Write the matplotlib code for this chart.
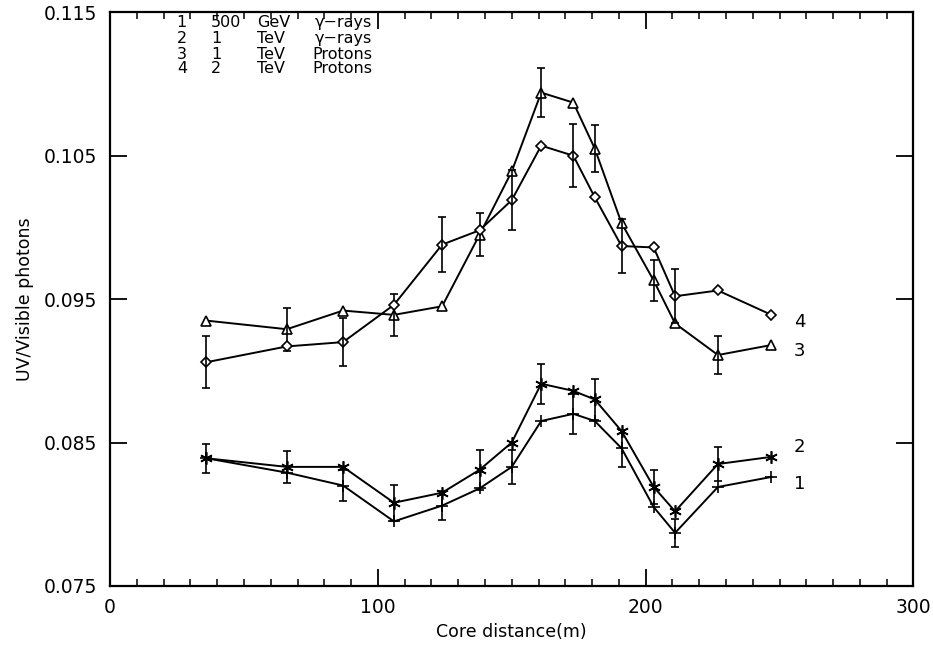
import numpy as np
import matplotlib
matplotlib.use("Agg")
import matplotlib.pyplot as plt
from matplotlib.ticker import MultipleLocator

# core distance (m)
dist = [36, 66, 87, 106, 124, 138, 150, 161, 173, 181, 191, 203, 211, 227, 247]

# UV / visible photon ratio
gamma_500 = [0.0839, 0.0829, 0.0820, 0.0795, 0.0806, 0.0818, 0.0833, 0.0865,
             0.0870, 0.0865, 0.0846, 0.0805, 0.0787, 0.0819, 0.0826]
gamma_1tev = [0.0839, 0.0833, 0.0833, 0.0808, 0.0815, 0.0831, 0.0850, 0.0891,
              0.0886, 0.0880, 0.0858, 0.0819, 0.0802, 0.0835, 0.0840]
prot_1tev = [0.0935, 0.0929, 0.0942, 0.0939, 0.0945, 0.0995, 0.1039, 0.1094,
             0.1087, 0.1055, 0.1003, 0.0963, 0.0933, 0.0911, 0.0918]
prot_2tev = [0.0906, 0.0917, 0.0920, 0.0946, 0.0988, 0.0998, 0.1019, 0.1057,
             0.1050, 0.1021, 0.0987, 0.0986, 0.0952, 0.0956, 0.0939]

# error bars (0 = no bar drawn)
err_gamma_500 = [0.0010, 0, 0.0011, 0, 0.0010, 0, 0.0012, 0,
                 0.0014, 0, 0.0013, 0, 0.0010, 0, 0]
err_gamma_1tev = [0, 0.0011, 0, 0.00127, 0, 0.0014, 0, 0.0014,
                  0, 0.0014, 0, 0.0012, 0, 0.0012, 0]
err_prot_1tev = [0, 0.0015, 0, 0.00145, 0, 0.0015, 0, 0.0017,
                 0, 0.00165, 0, 0.0014, 0, 0.0013, 0]
err_prot_2tev = [0.0018, 0, 0.00165, 0, 0.0019, 0, 0.0021, 0,
                 0.0022, 0, 0.0019, 0, 0.0019, 0, 0]

series = [
    (gamma_500, err_gamma_500, '+', 9, "1"),
    (gamma_1tev, err_gamma_1tev, (6, 2, 0), 9, "2"),
    (prot_1tev, err_prot_1tev, '^', 7, "3"),
    (prot_2tev, err_prot_2tev, 'D', 5.5, "4"),
]
end_labels = {"1": 0.0821, "2": 0.0847, "3": 0.0914, "4": 0.0934}

legend_rows = [("1", "500", "GeV", "\u03b3\u2212rays"),
               ("2", "1", "TeV", "\u03b3\u2212rays"),
               ("3", "1", "TeV", "Protons"),
               ("4", "2", "TeV", "Protons")]

plt.rcParams['font.family'] = ['DejaVu Sans']

fig = plt.figure(figsize=(9.33, 6.46), dpi=100)
ax = fig.add_axes([0.118, 0.093, 0.861, 0.888])

x = np.array(dist)
for vals, errs, mk, ms, lab in series:
    y = np.array(vals)
    e = np.array(errs)
    ax.plot(x, y, color='k', lw=1.4, marker=mk, ms=ms, mfc='white',
            mec='k', mew=1.2)
    m = e > 0
    ax.errorbar(x[m], y[m], yerr=e[m], fmt='none', ecolor='k',
                elinewidth=1.2, capsize=3, capthick=1.2)
    ax.text(257.4, end_labels[lab], lab, fontsize=13, ha='center', va='center')

ys = [0.11432, 0.11317, 0.11207, 0.11108]
for (a, b, c, d), yy in zip(legend_rows, ys):
    ax.text(26.8, yy, a, fontsize=11.5, ha='center', va='center')
    ax.text(37.7, yy, b, fontsize=11.5, ha='left', va='center')
    ax.text(54.8, yy, c, fontsize=11.5, ha='left', va='center')
    ax.text(75.5 if d.startswith("P") else 76.5, yy, d, fontsize=11.5,
            ha='left', va='center')

ax.set_xlim(0, 300)
ax.set_ylim(0.075, 0.115)
ax.set_xticks([0, 100, 200, 300])
ax.set_yticks([0.075, 0.085, 0.095, 0.105, 0.115])
ax.set_yticklabels(["0.075", "0.085", "0.095", "0.105", "0.115"])
ax.xaxis.set_minor_locator(MultipleLocator(10))
ax.tick_params(axis='both', which='major', direction='in', length=12,
               width=1.3, top=True, right=True, labelsize=13.5, pad=9)
ax.tick_params(axis='x', which='minor', direction='in', length=5,
               width=1.1, top=True)
for sp in ax.spines.values():
    sp.set_linewidth(1.6)

ax.set_xlabel("Core distance(m)", fontsize=12.5, labelpad=4)
ax.set_ylabel("UV/Visible photons", fontsize=12.5, labelpad=7)

fig.savefig("out.png", dpi=100)
